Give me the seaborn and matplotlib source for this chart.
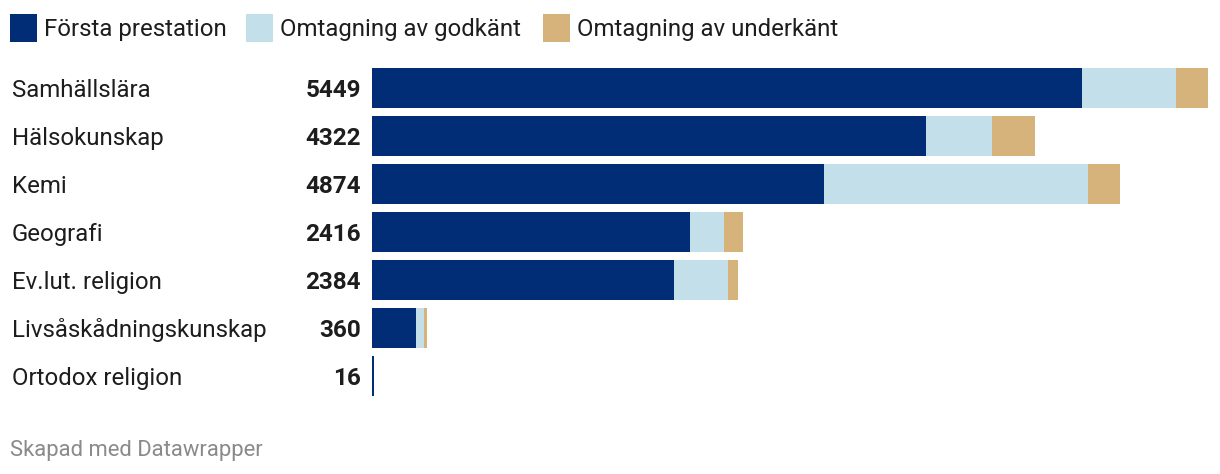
import matplotlib
matplotlib.use("Agg")
import matplotlib.pyplot as plt
import matplotlib.transforms as mtrans
from matplotlib.patches import Rectangle
import seaborn as sns
import pandas as pd
import numpy as np

categories = ["Samhällslära", "Hälsokunskap", "Kemi", "Geografi",
              "Ev.lut. religion", "Livsåskådningskunskap", "Ortodox religion"]
forsta = [4628, 3611, 2946, 2073, 1968, 287, 10]
godkant = [613, 430, 1721, 222, 352, 52, 1]
underkant = [208, 281, 207, 121, 64, 21, 5]
totals = [5449, 4322, 4874, 2416, 2384, 360, 16]
series_names = ["Första prestation", "Omtagning av godkänt", "Omtagning av underkänt"]
colors = ["#012D77", "#C3DFEA", "#D6B37A"]

sns.set_theme(style="white")
plt.rcParams['font.family'] = ['Roboto', 'DejaVu Sans']

W, H = 1220, 474
fig = plt.figure(figsize=(W / 100, H / 100), dpi=100)
ax = fig.add_axes([372 / W, (H - 400) / H, 836 / W, 336 / H])

df = pd.DataFrame({
    "cat": categories,
    "f": np.array(forsta),
    "fg": np.array(forsta) + np.array(godkant),
    "all": np.array(forsta) + np.array(godkant) + np.array(underkant),
})
bw = 40 / 48
sns.barplot(data=df, y="cat", x="all", color=colors[2], orient="h", width=bw,
            saturation=1, ax=ax, linewidth=0)
sns.barplot(data=df, y="cat", x="fg", color=colors[1], orient="h", width=bw,
            saturation=1, ax=ax, linewidth=0)
sns.barplot(data=df, y="cat", x="f", color=colors[0], orient="h", width=bw,
            saturation=1, ax=ax, linewidth=0)

ax.set_xlim(0, 5449)
ax.set_ylim(6.5, -0.5)
ax.set_axis_off()

tr = mtrans.blended_transform_factory(fig.transFigure, ax.transData)
for i, (c, t) in enumerate(zip(categories, totals)):
    ax.text(12 / W, i, c, transform=tr, ha="left", va="center_baseline",
            fontsize=17.3, color="#1d1d1d")
    ax.text(361 / W, i, f"{t}", transform=tr, ha="right", va="center_baseline",
            fontsize=17.5, fontweight="bold", color="#1d1d1d")

# legend
leg_x = [10, 246, 543]
for x0, name, col in zip(leg_x, series_names, colors):
    fig.patches.append(Rectangle((x0 / W, (H - 42) / H), 27 / W, 28 / H,
                                 transform=fig.transFigure, color=col, linewidth=0))
    fig.text((x0 + 34) / W, (H - 27) / H, name, ha="left", va="center_baseline",
             fontsize=17.3, color="#1d1d1d")

fig.text(10 / W, (H - 448) / H, "Skapad med Datawrapper", ha="left",
         va="center_baseline", fontsize=15.8, color="#8a8a8a")

fig.savefig("out.png", dpi=100, facecolor="white")
